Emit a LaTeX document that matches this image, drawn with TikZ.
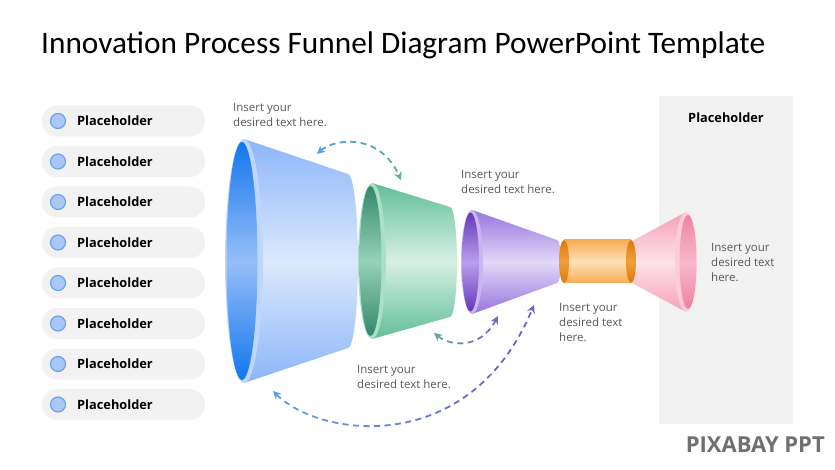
\documentclass[tikz,border=0pt]{standalone}
\usepackage{fontspec}
\setmainfont{Open Sans}
\newfontfamily\titlefont{Carlito}
\usetikzlibrary{arrows.meta}
\definecolor{pillgray}{HTML}{F2F2F2}
\definecolor{txtgray}{HTML}{595959}
\definecolor{dotfill}{HTML}{A9C8F8}
\definecolor{dotdraw}{HTML}{6EA0F0}
% blue
\definecolor{bBody}{HTML}{8CB6F8}
\definecolor{bBodyM}{HTML}{DCE9FD}
\definecolor{bRim}{HTML}{BED6FB}
\definecolor{bIn}{HTML}{1476EE}
\definecolor{bInM}{HTML}{96BEF8}
% green
\definecolor{gBody}{HTML}{62BE98}
\definecolor{gBodyM}{HTML}{D6F0E6}
\definecolor{gRim}{HTML}{AAE0C8}
\definecolor{gIn}{HTML}{34886A}
\definecolor{gInM}{HTML}{96D2BA}
% purple
\definecolor{pBody}{HTML}{9674DE}
\definecolor{pBodyM}{HTML}{E2D8F8}
\definecolor{pRim}{HTML}{C8B6F0}
\definecolor{pIn}{HTML}{6438BA}
\definecolor{pInM}{HTML}{B8A0EC}
% pink
\definecolor{kBody}{HTML}{F6A0B8}
\definecolor{kBodyM}{HTML}{FDE2EA}
\definecolor{kRim}{HTML}{FCCEDA}
\definecolor{kIn}{HTML}{F082A2}
\definecolor{kInM}{HTML}{F8B8CC}
% orange
\definecolor{oBody}{HTML}{F8AC54}
\definecolor{oBodyM}{HTML}{FDE0B8}
\definecolor{oEnd}{HTML}{DC7808}
\definecolor{oEndM}{HTML}{F0A03C}
% arrows
\definecolor{arrOneA}{HTML}{5A9CE6}
\definecolor{arrOneB}{HTML}{4EB4A0}
\definecolor{arrTwoA}{HTML}{58AAA4}
\definecolor{arrTwoB}{HTML}{8062D2}
\definecolor{arrThrA}{HTML}{5E9CEC}
\definecolor{arrThrB}{HTML}{7A5CD2}
\definecolor{wmgray}{HTML}{707070}
\tikzset{
  pill/.style={fill=pillgray, draw=none, rounded corners=15pt, minimum width=163pt, minimum height=31pt, inner sep=0pt},
  dot/.style={circle, fill=dotfill, draw=dotdraw, line width=1.2pt, minimum size=15pt, inner sep=0pt},
  phtext/.style={font=\bfseries\fontsize{12.8}{15}\selectfont, text=black, anchor=west, inner sep=0pt},
  body/.style={font=\fontsize{11.5}{15}\selectfont, text=txtgray, align=left, anchor=north west, inner sep=0pt},
  darr/.style={dash pattern=on 6pt off 4.5pt, line width=1.8pt, {Stealth[length=8pt,width=8pt]}-{Stealth[length=8pt,width=8pt]}},
  vshade/.style 2 args={top color=#1, bottom color=#1, middle color=#2},
}
% gradient dashed arrow: #1 xmin, #2 xmax, #3 colour at left, #4 colour at right, #5 path
\newcommand\gradarrowpath[5]{%
  \foreach \k in {0,...,5}{%
    \pgfmathsetmacro\xa{#1+(#2-#1)*\k/6}%
    \pgfmathsetmacro\xb{#1+(#2-#1)*(\k+1)/6}%
    \pgfmathtruncatemacro\pc{100-\k*20}%
    \ifnum\k=0 \def\xa{0}\fi
    \ifnum\k=5 \def\xb{835}\fi
    \begin{scope}
      \clip (\xa,0) rectangle (\xb,470);
      \draw[darr, color=#3!\pc!#4] #5;
    \end{scope}
  }%
}
\begin{document}
\begin{tikzpicture}[x=1pt,y=-1pt]
\useasboundingbox (0,0) rectangle (835,470);
\fill[white] (0,0) rectangle (835,470);
% title
\node[anchor=west, inner sep=0pt, font=\titlefont\fontsize{31.3}{36}\selectfont] (title) at (41,45) {Innovation Process Funnel Diagram PowerPoint Template};
% right panel
\fill[pillgray] (659,96) rectangle (793,424);
\node[phtext, anchor=center] (rph) at (726,118) {Placeholder};
% list
\foreach \i/\y in {1/121,2/161.5,3/202,4/242.5,5/283,6/323.5,7/364,8/404.5}{
  \node[pill] (pill\i) at (123.5,\y) {};
  \node[dot] (dot\i) at (58,\y) {};
  \node[phtext] (ph\i) at (77,\y) {Placeholder};
}
% ---------- blue funnel
\shade[vshade={bBody}{bBodyM}]
  (244,139) -- (348,174) arc[start angle=-90,end angle=90,x radius=10,y radius=87] -- (244,383) -- cycle;
\fill[bRim] (244,261) ellipse[x radius=19, y radius=122];
\shade[vshade={bIn}{bInM}] (242,261) ellipse[x radius=15.5, y radius=119];
% ---------- green funnel
\shade[vshade={gBody}{gBodyM}]
  (372,183) -- (450,207) arc[start angle=-90,end angle=90,x radius=7,y radius=55] -- (372,339) -- cycle;
\fill[gRim] (372,261) ellipse[x radius=14, y radius=78];
\shade[vshade={gIn}{gInM}] (370.5,261) ellipse[x radius=11, y radius=75];
% ---------- purple funnel
\shade[vshade={pBody}{pBodyM}]
  (472,210) -- (557,240) arc[start angle=-90,end angle=90,x radius=4,y radius=21.5] -- (472,314) -- cycle;
\fill[pRim] (472,262) ellipse[x radius=11, y radius=52];
\shade[vshade={pIn}{pInM}] (470.5,262) ellipse[x radius=8.5, y radius=49.5];
% ---------- pink funnel
\shade[vshade={kBody}{kBodyM}]
  (632,241) -- (686,212) -- (686,312) -- (632,283) -- cycle;
\fill[kRim] (686,262) ellipse[x radius=11, y radius=50];
\shade[vshade={kIn}{kInM}] (688,262) ellipse[x radius=8.5, y radius=47];
% ---------- orange cylinder
\shade[vshade={oBody}{oBodyM}] (564,240) rectangle (631,283);
\shade[vshade={oEnd}{oEndM}] (564,261.5) ellipse[x radius=5, y radius=21.5];
\shade[vshade={oEnd}{oEndM}] (631,261.5) ellipse[x radius=5, y radius=21.5];
% ---------- arrows
\coordinate (a1s) at (317,154); \coordinate (a1e) at (401,180);
\gradarrowpath{317}{401}{arrOneA}{arrOneB}{(a1s) .. controls (335,138) and (380,133) .. (a1e)}
\coordinate (a2s) at (434,333); \coordinate (a2e) at (498,316);
\gradarrowpath{434}{498}{arrTwoA}{arrTwoB}{(a2s) .. controls (450,346) and (480,350) .. (a2e)}
\coordinate (a3s) at (273,391); \coordinate (a3e) at (534,305);
\gradarrowpath{273}{534}{arrThrA}{arrThrB}{(a3s) .. controls (320,438) and (470,458) .. (a3e)}
% ---------- texts
\node[body] (t1) at (233,103) {Insert your\\desired text here.};
\node[body] (t2) at (461,170) {Insert your\\desired text here.};
\node[body] (t3) at (559,303) {Insert your\\desired text\\here.};
\node[body] (t4) at (357,365) {Insert your\\desired text here.};
\node[body] (t5) at (711,243) {Insert your\\desired text\\here.};
% watermark
\node[anchor=east, inner sep=0pt, font=\bfseries\fontsize{22}{24}\selectfont, text=wmgray] (wm) at (825,445) {PIXABAY PPT};
\end{tikzpicture}
\end{document}
